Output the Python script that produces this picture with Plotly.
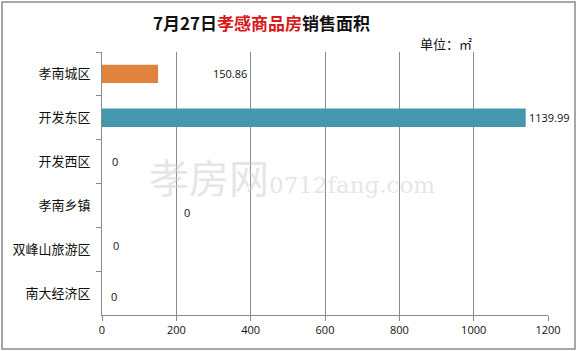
import plotly.graph_objects as go

categories = ["孝南城区", "开发东区", "开发西区", "孝南乡镇", "双峰山旅游区", "南大经济区"]
values = [150.86, 1139.99, 0, 0, 0, 0]
value_labels = ["150.86", "1139.99", "0", "0", "0", "0"]
bar_colors = ["#E0833C", "#4597AE", "#4597AE", "#4597AE", "#4597AE", "#4597AE"]
x_ticks = [0, 200, 400, 600, 800, 1000, 1200]

# label placement offsets (pixels), styling only
label_dx = [72, 24, 13, 85, 14, 12]
label_dy = [0, 0, 0, -7, 4, -3]

fig = go.Figure()
fig.add_trace(go.Bar(
    y=categories, x=values, orientation="h",
    marker=dict(color=bar_colors, line=dict(width=0)),
    width=0.42, hoverinfo="skip",
))

for c, v, t, dx, dy in zip(categories, values, value_labels, label_dx, label_dy):
    fig.add_annotation(x=v, y=c, text=t, showarrow=False, xref="x", yref="y",
                       xshift=dx, yshift=dy,
                       font=dict(family="Open Sans, DejaVu Sans", size=11, color="#111"))

fig.update_layout(
    width=579, height=351,
    margin=dict(l=102, r=31, t=52, b=36),
    paper_bgcolor="white", plot_bgcolor="white",
    showlegend=False,
    font=dict(family="Noto Sans CJK SC", color="#111"),
)
fig.update_xaxes(range=[0, 1200], tickvals=x_ticks, ticktext=[str(v) for v in x_ticks],
                 showgrid=True, gridcolor="#8a8a8a", gridwidth=1,
                 showline=True, linecolor="#8a8a8a", linewidth=1,
                 ticks="outside", ticklen=5, tickcolor="#8a8a8a",
                 tickfont=dict(family="Open Sans, DejaVu Sans", size=11, color="#111"),
                 zeroline=False, fixedrange=True)
fig.update_yaxes(autorange="reversed", showgrid=False,
                 showline=True, linecolor="#8a8a8a", linewidth=1,
                 ticks="outside", ticklen=5, tickcolor="#8a8a8a", tickson="boundaries",
                 tickfont=dict(family="Noto Sans CJK SC", size=13, color="#111"),
                 ticklabelstandoff=8, fixedrange=True)

# title
fig.add_annotation(xref="paper", yref="paper", x=0.357, y=1.0, yshift=30, yanchor="middle",
                   showarrow=False,
                   text="<b>7月27日<span style='color:#D7191C'>孝感商品房</span>销售面积</b>",
                   font=dict(family="Noto Sans CJK SC", size=17, color="#111"))
fig.add_annotation(xref="paper", yref="paper", x=0.835, y=1.0, yshift=9, yanchor="middle",
                   showarrow=False,
                   text="单位：㎡", font=dict(family="Noto Sans CJK SC", size=13, color="#111"))

# watermark
fig.add_annotation(xref="paper", yref="paper", x=0.1, y=0.53, xanchor="left", showarrow=False,
                   text="<span style='font-size:40px'>孝房网</span><span style='font-family:DejaVu Serif;font-size:23px'>0712fang.com</span>",
                   font=dict(family="Noto Sans CJK SC", color="rgba(205,205,205,0.5)"))

# outer border
fig.add_shape(type="rect", xref="paper", yref="paper",
              x0=-100/446, x1=(575-102)/446, y0=-(349-315)/263, y1=(315-2)/263,
              line=dict(color="#8a8a8a", width=1.5), layer="below")

fig.write_html("out.html")
